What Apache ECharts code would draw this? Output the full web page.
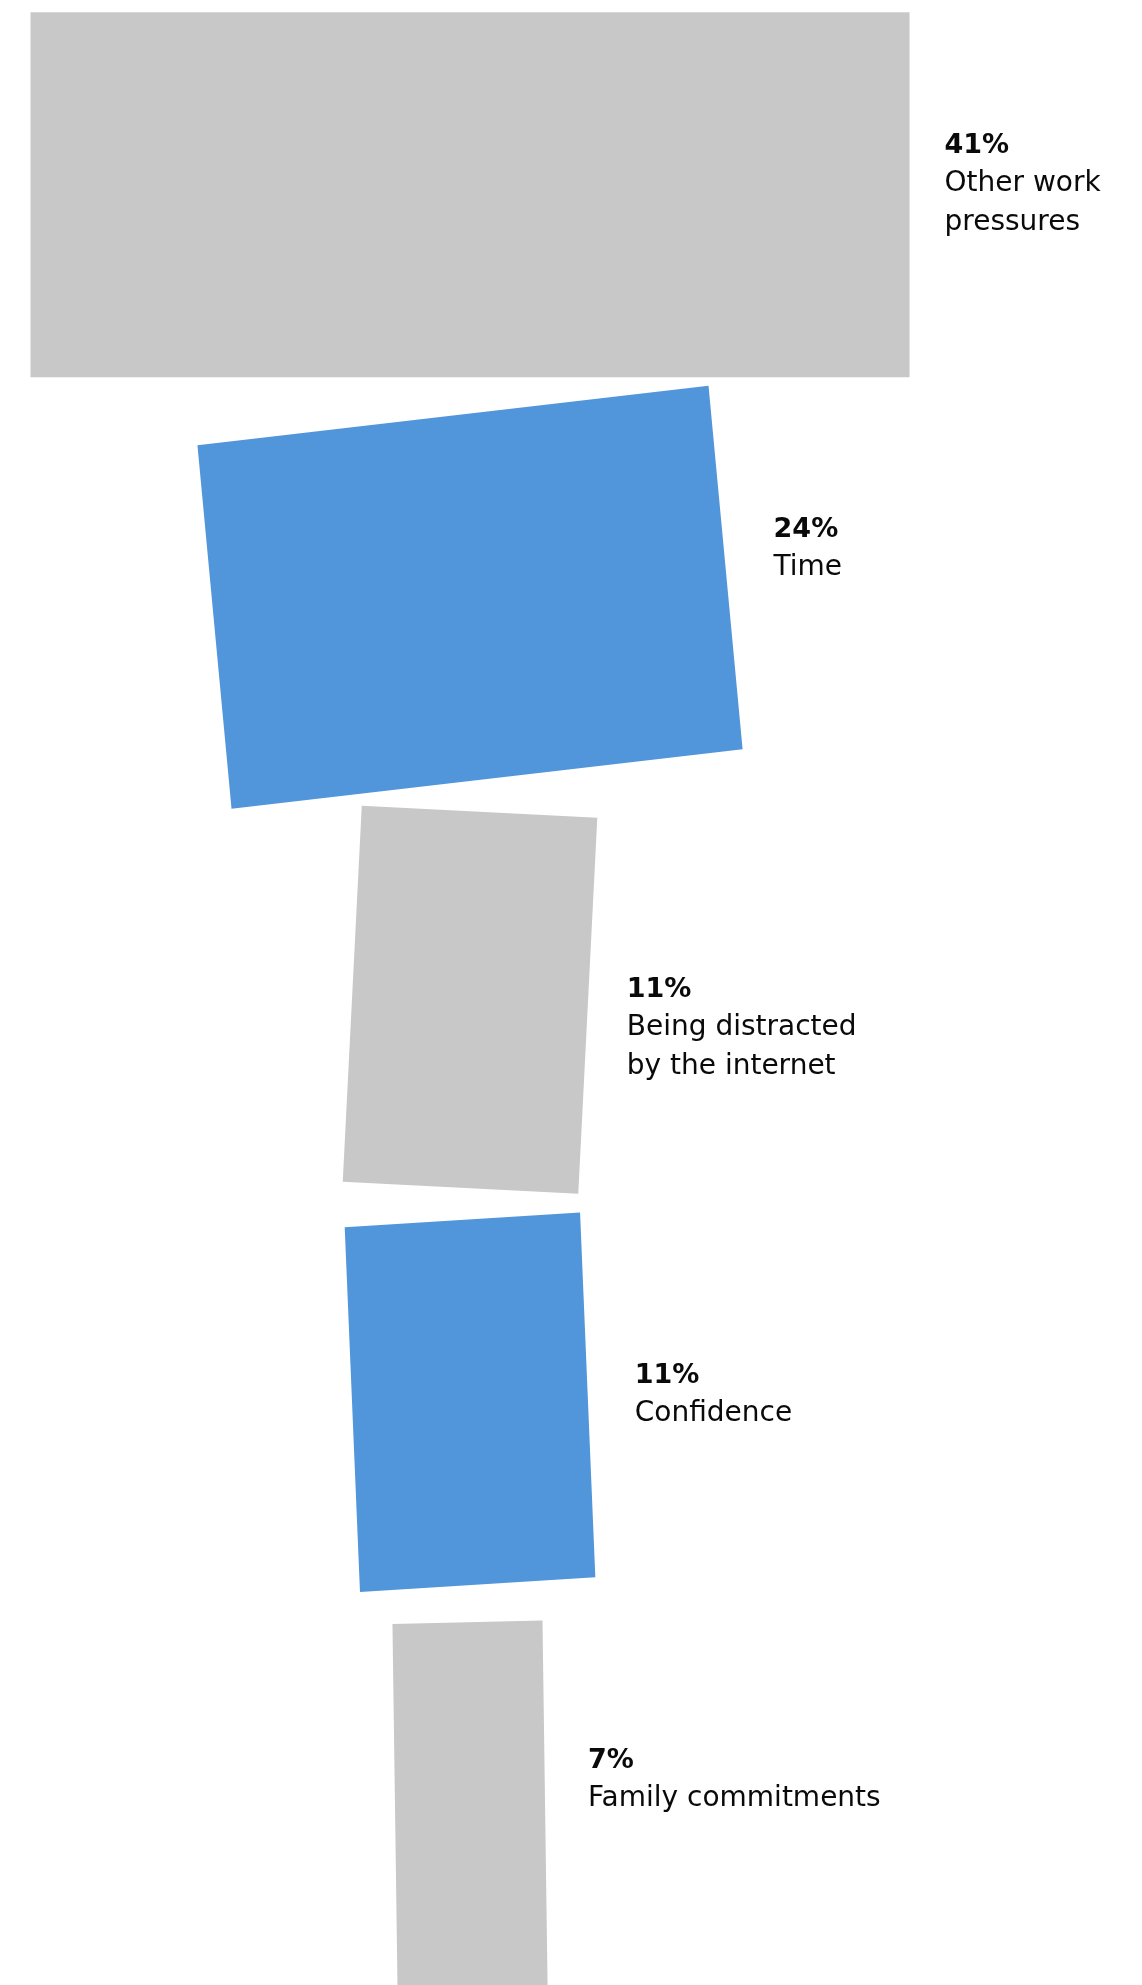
<!DOCTYPE html>
<html>
<head>
<meta charset="utf-8">
<script src="https://cdn.jsdelivr.net/npm/echarts@6/dist/echarts.min.js"></script>
<style>
  html, body { margin: 0; padding: 0; background: #ffffff; }
  #chart { width: 1142px; height: 1985px; }
</style>
</head>
<body>
<div id="chart"></div>
<script>
// Survey answers: what gets in the way, share of respondents (%)
const categories = [
  'Other work pressures',
  'Time',
  'Being distracted by the internet',
  'Confidence',
  'Family commitments'
];
const shares = [41, 24, 11, 11, 7];
const labelLines = [
  ['Other work', 'pressures'],
  ['Time'],
  ['Being distracted', 'by the internet'],
  ['Confidence'],
  ['Family commitments']
];

// Look of the tilted blocks
const fills = ['#c8c8c8', '#5196db', '#c8c8c8', '#5196db', '#c8c8c8'];
const edgeTilt = [0, -6.65, 2.9, -3.64, -1.3];   // top/bottom edge angle, degrees
const sideTilt = [0, -5.36, 2.9, -2.4, -0.8];    // left/right edge angle, degrees
const heightRatio = [0.907, 0.907, 0.935, 0.907, 0.907];
// label offset from the middle of each block's right edge: [dx, first baseline dy]
const labelShift = [[35, -39], [48, -28], [39, -6], [47, -9], [43, -32]];

const FONT_FAMILY = '"DejaVu Sans", sans-serif';
const PCT_SIZE = 27;
const TEXT_SIZE = 28;
const FIRST_GAP = 38;   // percentage line to first text line
const LINE_GAP = 39;    // between text lines

function renderItem(params, api) {
  const i = params.dataIndex;
  const v = api.value(0);
  const row = api.value(1);
  const l = api.coord([-v / 2, row]);
  const r = api.coord([v / 2, row]);
  const cx = (l[0] + r[0]) / 2;
  const cy = l[1];
  const hw = (r[0] - l[0]) / 2;
  const hh = api.size([0, 1])[1] * heightRatio[i] / 2;
  const a = edgeTilt[i] * Math.PI / 180;
  const b = sideTilt[i] * Math.PI / 180;
  const ux = Math.cos(a), uy = Math.sin(a);
  const vx = -Math.sin(b), vy = Math.cos(b);
  const pts = [[-1, -1], [1, -1], [1, 1], [-1, 1]].map(function (c) {
    return [cx + c[0] * hw * ux + c[1] * hh * vx, cy + c[0] * hw * uy + c[1] * hh * vy];
  });

  const rx = cx + hw * ux + labelShift[i][0];
  const base = cy + hw * uy + labelShift[i][1];
  const children = [{
    type: 'polygon',
    shape: { points: pts },
    style: { fill: fills[i] }
  }, {
    type: 'text',
    style: {
      x: rx, y: base - PCT_SIZE * 0.36,
      text: v + '%',
      font: 'bold ' + PCT_SIZE + 'px ' + FONT_FAMILY,
      fill: '#0a0a0a',
      verticalAlign: 'middle', align: 'left'
    }
  }];
  labelLines[i].forEach(function (line, k) {
    children.push({
      type: 'text',
      style: {
        x: rx, y: base + FIRST_GAP + LINE_GAP * k - TEXT_SIZE * 0.36,
        text: line,
        font: TEXT_SIZE + 'px ' + FONT_FAMILY,
        fill: '#0a0a0a',
        verticalAlign: 'middle', align: 'left'
      }
    });
  });
  return { type: 'group', children: children };
}

const chart = echarts.init(document.getElementById('chart'), null, { renderer: 'canvas' });
chart.setOption({
  animation: false,
  backgroundColor: '#ffffff',
  grid: { left: 19.8, width: 986.2, top: -6.5, height: 2012.5, outerBoundsMode: 'none', containLabel: false },
  xAxis: { type: 'value', min: -21, max: 25, show: false },
  yAxis: { type: 'category', data: categories, inverse: true, show: false },
  series: [{
    type: 'custom',
    renderItem: renderItem,
    clip: false,
    encode: { x: 0, y: 1 },
    data: shares.map(function (v, i) { return [v, i]; })
  }]
});
</script>
</body>
</html>
